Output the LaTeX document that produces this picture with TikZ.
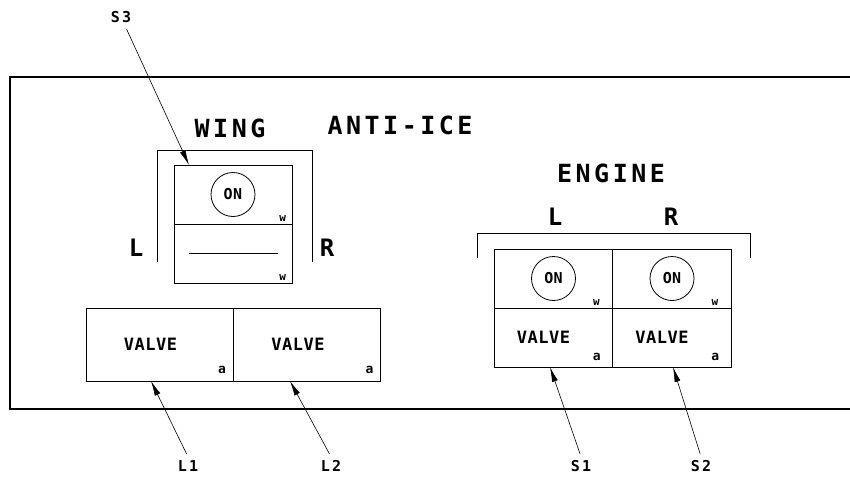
\documentclass[tikz,border=0pt]{standalone}
\usepackage{fontspec}
\newfontfamily\panelbig{DejaVu Sans Mono Bold}[LetterSpace=14]
\newfontfamily\panelsmall{DejaVu Sans Mono Bold}[LetterSpace=3]
\usetikzlibrary{arrows.meta,positioning}

\begin{document}
\begin{tikzpicture}[x=1pt,y=-1pt,line width=0.8pt,
  cell/.style={draw,inner sep=0pt,minimum height=59pt},
  valvecell/.style={draw,inner sep=0pt,minimum width=147pt,minimum height=73pt},
  onlamp/.style={draw,circle,inner sep=0pt,minimum size=44pt,font=\panelsmall\fontsize{15}{15}\selectfont},
  heading/.style={font=\panelbig\fontsize{25}{25}\selectfont},
  side/.style={font=\panelbig\fontsize{24}{24}\selectfont},
  legend/.style={font=\panelsmall\fontsize{17}{17}\selectfont},
  wmark/.style={anchor=south east,inner sep=0pt,font=\panelsmall\fontsize{11}{11}\selectfont},
  amark/.style={anchor=south east,inner sep=0pt,font=\panelsmall\fontsize{13}{13}\selectfont},
  callname/.style={font=\panelbig\fontsize{15}{15}\selectfont},
  callout/.style={line width=0.6pt,shorten <=3pt,-{Latex[length=15pt,width=6pt]}}]
\useasboundingbox (0,0) rectangle (850,479);

% panel outline, open on the right
\draw[line width=1.1pt] (850,77) -- (10,77) -- (10,409) -- (850,409);

\node[heading] (wing) at (230,128) {WING};
\node[heading] (antiice) at (400,125) {ANTI-ICE};
\node[heading] (engine) at (611,173) {ENGINE};

% wing switch
\node[cell,minimum width=118pt] (wingon) at (233,194.5) {};
\node[cell,minimum width=118pt] (wingoff) at (233,253.5) {};
\node[onlamp] (wingonlamp) at (wingon) {ON};
\node[wmark] (wingw1) at ([shift={(-6pt,3pt)}]wingon.south east) {w};
\node[wmark] (wingw2) at ([shift={(-6pt,3pt)}]wingoff.south east) {w};
\draw ([shift={(15pt,0pt)}]wingoff.west) -- ([shift={(-14pt,0pt)}]wingoff.east);
\draw (157,262) -- (157,150) -- (312,150) -- (312,262);
\node[side] (wingl) at (136,248) {L};
\node[side] (wingr) at (327,248) {R};

% wing valves
\node[valvecell] (valvel) at (159.5,344.5) {};
\node[valvecell] (valver) at (307,344.5) {};
\node[legend] at ([xshift=-9pt]valvel) {VALVE};
\node[legend] at ([xshift=-9pt]valver) {VALVE};
\node[amark] (al) at ([shift={(-7pt,7pt)}]valvel.south east) {a};
\node[amark] (ar) at ([shift={(-7pt,7pt)}]valver.south east) {a};

% engine switches
\draw (477,258) -- (477,233) -- (750,233) -- (750,258);
\node[side] (engl) at (555,217) {L};
\node[side] (engr) at (671,217) {R};
\foreach \side/\x in {l/553.5,r/672} {
  \node[cell,minimum width=118.5pt] (eon\side) at (\x,278.5) {};
  \node[cell,minimum width=118.5pt] (evalve\side) at (\x,337.5) {};
  \node[onlamp] (elamp\side) at (eon\side) {ON};
  \node[legend] at ([xshift=-10pt]evalve\side) {VALVE};
  \node[wmark] (ew\side) at ([shift={(-13pt,3pt)}]eon\side.south east) {w};
  \node[amark] (ea\side) at ([shift={(-12pt,6pt)}]evalve\side.south east) {a};
}

% callouts
\coordinate (tipsthree) at (189,165);
\coordinate (tiplone) at (151,381);
\coordinate (tipltwo) at (290,381);
\coordinate (tipsone) at (550,367);
\coordinate (tipstwo) at (673,367);
\node[callname] (sthree) at (121,17) {S3};
\node[callname] (lone) at (188,466) {L1};
\node[callname] (ltwo) at (331,466) {L2};
\node[callname] (sone) at (581,466) {S1};
\node[callname] (stwo) at (701,466) {S2};
\draw[callout] (sthree) -- (tipsthree);
\draw[callout] (lone.north) -- (tiplone);
\draw[callout] (ltwo.north) -- (tipltwo);
\draw[callout] (sone.north) -- (tipsone);
\draw[callout] (stwo.north) -- (tipstwo);
\end{tikzpicture}
\end{document}
